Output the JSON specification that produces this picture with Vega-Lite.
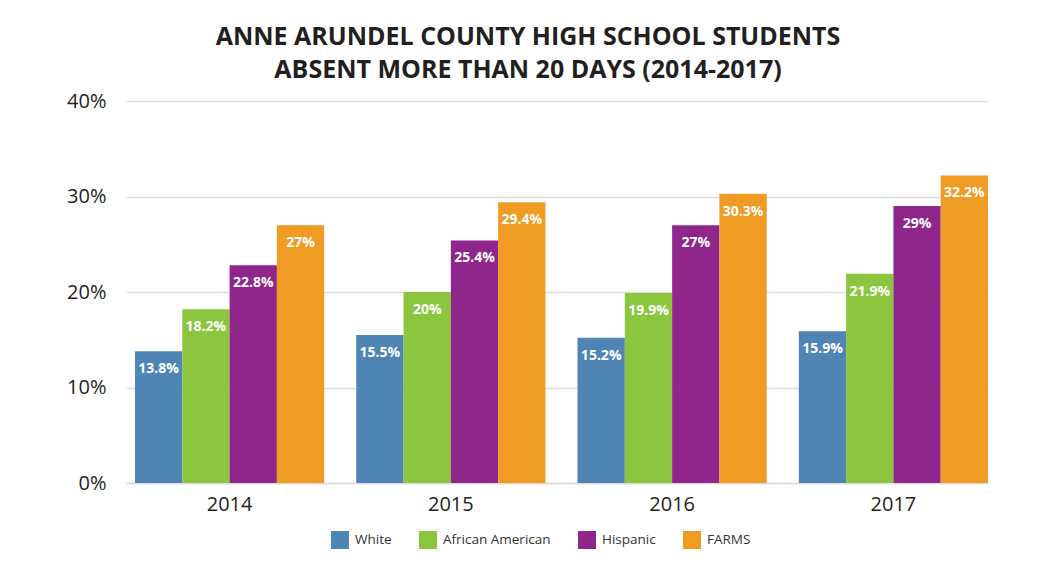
{
  "$schema": "https://vega.github.io/schema/vega-lite/v6.json",
  "width": 862,
  "height": 382,
  "autosize": {"type": "none"},
  "padding": {"left": 126, "top": 101, "right": 49, "bottom": 88},
  "background": "white",
  "title": {
    "text": ["ANNE ARUNDEL COUNTY HIGH SCHOOL STUDENTS", "ABSENT MORE THAN 20 DAYS (2014-2017)"],
    "anchor": "middle",
    "dx": -29,
    "offset": 8,
    "font": "Open Sans",
    "fontSize": 25,
    "fontWeight": "bold",
    "lineHeight": 33,
    "color": "#231f20"
  },
  "data": {
    "values": [
      {"year": "2014", "group": "White", "value": 0.138},
      {"year": "2014", "group": "African American", "value": 0.182},
      {"year": "2014", "group": "Hispanic", "value": 0.228},
      {"year": "2014", "group": "FARMS", "value": 0.27},
      {"year": "2015", "group": "White", "value": 0.155},
      {"year": "2015", "group": "African American", "value": 0.20},
      {"year": "2015", "group": "Hispanic", "value": 0.254},
      {"year": "2015", "group": "FARMS", "value": 0.294},
      {"year": "2016", "group": "White", "value": 0.152},
      {"year": "2016", "group": "African American", "value": 0.199},
      {"year": "2016", "group": "Hispanic", "value": 0.27},
      {"year": "2016", "group": "FARMS", "value": 0.303},
      {"year": "2017", "group": "White", "value": 0.159},
      {"year": "2017", "group": "African American", "value": 0.219},
      {"year": "2017", "group": "Hispanic", "value": 0.29},
      {"year": "2017", "group": "FARMS", "value": 0.322}
    ]
  },
  "encoding": {
    "x": {
      "field": "year",
      "type": "nominal",
      "scale": {"paddingInner": 0.145, "paddingOuter": 0.0203, "align": 1},
      "axis": {
        "title": null,
        "labelAngle": 0,
        "labelFont": "Open Sans",
        "labelFontSize": 20,
        "labelColor": "#231f20",
        "labelPadding": 11,
        "ticks": false,
        "domainColor": "#dcdcdc",
        "domainWidth": 1.5
      }
    },
    "xOffset": {
      "field": "group",
      "type": "nominal",
      "sort": ["White", "African American", "Hispanic", "FARMS"],
      "scale": {"paddingInner": 0, "paddingOuter": 0}
    },
    "y": {
      "field": "value",
      "type": "quantitative",
      "scale": {"domain": [0, 0.4], "nice": false},
      "axis": {
        "title": null,
        "format": ".0%",
        "values": [0, 0.1, 0.2, 0.3, 0.4],
        "labelFont": "Open Sans",
        "labelFontSize": 20,
        "labelColor": "#231f20",
        "labelPadding": 20,
        "ticks": false,
        "domain": false,
        "gridColor": "#dcdcdc",
        "gridWidth": 1.5
      }
    }
  },
  "layer": [
    {
      "mark": {"type": "bar"},
      "encoding": {
        "color": {
          "field": "group",
          "type": "nominal",
          "sort": ["White", "African American", "Hispanic", "FARMS"],
          "scale": {
            "domain": ["White", "African American", "Hispanic", "FARMS"],
            "range": ["#4e85b5", "#8cc63f", "#8e268b", "#f09b24"]
          },
          "legend": {
            "title": null,
            "orient": "none",
            "direction": "horizontal",
            "legendX": 205,
            "legendY": 430,
            "symbolType": "square",
            "symbolSize": 324,
            "symbolStrokeWidth": 0,
            "symbolOpacity": 1,
            "labelFont": "Open Sans",
            "labelFontSize": 13.5,
            "labelColor": "#333333",
            "labelOffset": 6,
            "columnPadding": 27,
            "padding": 0
          }
        }
      }
    },
    {
      "mark": {
        "type": "text",
        "color": "white",
        "font": "Open Sans",
        "fontSize": 14,
        "fontWeight": "bold",
        "baseline": "middle",
        "dy": 18
      },
      "encoding": {
        "text": {"field": "value", "type": "quantitative", "format": ".1~%"}
      }
    }
  ],
  "config": {
    "view": {"stroke": null}
  }
}
